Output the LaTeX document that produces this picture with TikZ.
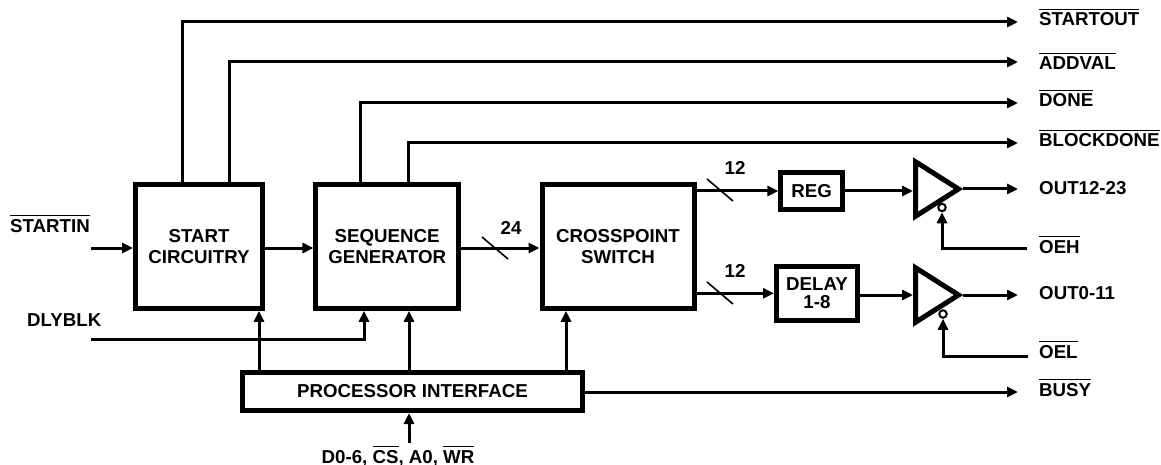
\documentclass[tikz,border=0pt]{standalone}
\usepackage{fontspec}
\setmainfont{Liberation Sans}
\usetikzlibrary{arrows.meta,shapes.geometric}
\newcommand{\ovl}[1]{\leavevmode\vbox{\hrule height 1pt\kern 3pt\hbox{#1}}}
\tikzset{
  x=1pt,y=-1pt,
  every node/.style={font=\fontsize{18.7}{21}\selectfont\bfseries,inner sep=0pt,align=center,text=black},
  bigbox/.style={draw,line width=5pt,fill=white,minimum width=#1},
  wire/.style={line width=3pt,line cap=butt,-{Triangle[length=11pt,width=10pt]}},
  bus/.style={line width=1.6pt},
  sig/.style={anchor=base west},
  buffer/.style={draw,line width=5pt,fill=white,isosceles triangle,isosceles triangle apex angle=64,isosceles triangle stretches,minimum width=54.5pt,minimum height=43pt,anchor=lower side},
  bubble/.style={draw,circle,line width=2pt,fill=white,minimum size=7.5pt},
}
\begin{document}
\begin{tikzpicture}
\useasboundingbox (0,0) rectangle (1161,465);
% blocks
\node[bigbox=127pt,minimum height=124pt] (start) at (199,246.3) {START\\CIRCUITRY};
\node[bigbox=142.5pt,minimum height=124pt] (seq) at (387.2,246.3) {SEQUENCE\\GENERATOR};
\node[bigbox=152pt,minimum height=124pt] (cross) at (618,246.3) {CROSSPOINT\\SWITCH};
\node[bigbox=61.5pt,minimum height=37pt] (reg) at (811.7,191) {REG};
\node[bigbox=81pt,minimum height=53.7pt] (delay) at (817,293.3) {DELAY\\[-2.5pt]1-8};
\node[bigbox=340pt,minimum height=38pt] (proc) at (412.5,391.5) {PROCESSOR INTERFACE};
\node[buffer] (bufh) at (913,189) {};
\node[buffer] (bufl) at (913,295) {};
\node[bubble] (bubh) at (942,207.5) {};
\node[bubble] (bubl) at (943,314) {};
% free-end coordinates
\coordinate (xa) at (182,0); \coordinate (xb) at (229,0);
\coordinate (xc) at (360,0); \coordinate (xd) at (408,0);
\coordinate (xe) at (259,0); \coordinate (xf) at (409,0);
\coordinate (xg) at (566,0); \coordinate (xh) at (364,0);
\coordinate (endstartout) at (1018,22);
\coordinate (endaddval) at (1018,62);
\coordinate (enddone) at (1018,103);
\coordinate (endblock) at (1018,143);
\coordinate (endh) at (1018,189);
\coordinate (endl) at (1018,295);
\coordinate (endbusy) at (1018,392);
\coordinate (instart) at (91,248);
\coordinate (indly) at (91,339);
\coordinate (inoeh) at (1027,248);
\coordinate (inoel) at (1028,356);
\coordinate (inbus) at (409,443);
% labels
\node[sig] (lstartout) at (1039,26) {\ovl{STARTOUT}};
\node[sig] (laddval) at (1039,70) {\ovl{ADDVAL}};
\node[sig] (ldone) at (1039,107) {\ovl{DONE}};
\node[sig] (lblock) at (1039,147) {\ovl{BLOCKDONE}};
\node[sig] (lh) at (1039,194) {OUT12-23};
\node[sig] (loeh) at (1039,253) {\ovl{OEH}};
\node[sig] (ll) at (1039,299) {OUT0-11};
\node[sig] (loel) at (1039,358) {\ovl{OEL}};
\node[sig] (lbusy) at (1039,396) {\ovl{BUSY}};
\node[sig] (lstartin) at (10,232) {\ovl{STARTIN}};
\node[sig] (ldly) at (27,326) {DLYBLK};
\node[anchor=base] (lbus) at (398,463) {D0-6, \ovl{CS}, A0, \ovl{WR}};
\node[anchor=base] (n24) at (511,234) {24};
\node[anchor=base] (n12a) at (735,175) {12};
\node[anchor=base] (n12b) at (735,277) {12};
% connectors
\draw[wire] (start.north -| xa) |- (endstartout);
\draw[wire] (start.north -| xb) |- (endaddval);
\draw[wire] (seq.north -| xc) |- (enddone);
\draw[wire] (seq.north -| xd) |- (endblock);
\draw[wire] (instart) -- (instart -| start.west);
\draw[wire] (start.east |- instart) -- (seq.west |- instart);
\draw[wire] (seq.east |- instart) -- (cross.west |- instart);
\draw[wire] (cross.east |- reg.west) -- (reg.west);
\draw[wire] (cross.east |- delay.west) -- (delay.west);
\draw[wire] (reg.east) -- (bufh.lower side |- reg.east);
\draw[wire] (delay.east |- bufl.lower side) -- (bufl.lower side);
\draw[wire] (bufh.apex) -- (endh);
\draw[wire] (bufl.apex) -- (endl);
\draw[wire] (inoeh) -| (bubh.south);
\draw[wire] (inoel) -| (bubl.south);
\draw[wire] (indly) -| (seq.south -| xh);
\draw[wire] (proc.north -| xe) -- (start.south -| xe);
\draw[wire] (proc.north -| xf) -- (seq.south -| xf);
\draw[wire] (proc.north -| xg) -- (cross.south -| xg);
\draw[wire] (inbus) -- (proc.south -| inbus);
\draw[wire] (proc.east |- endbusy) -- (endbusy);
% bus slashes
\draw[bus] (482,237) -- (508,259);
\draw[bus] (707,179) -- (733,201);
\draw[bus] (707,282) -- (733,304);
\end{tikzpicture}
\end{document}
